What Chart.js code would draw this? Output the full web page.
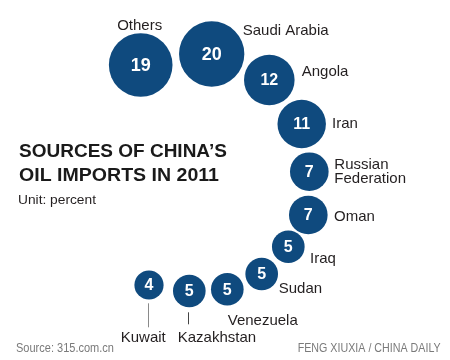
<!DOCTYPE html>
<html>
<head>
<meta charset="utf-8">
<script src="https://cdn.jsdelivr.net/npm/chart.js@4/dist/chart.umd.min.js"></script>
<style>
html,body{margin:0;padding:0;background:#fff;}
#c{display:block;}
</style>
</head>
<body>
<canvas id="c" width="450" height="360"></canvas>
<script>
// ---- data ----
const countries = ["Others","Saudi Arabia","Angola","Iran","Russian\nFederation","Oman","Iraq","Sudan","Venezuela","Kazakhstan","Kuwait"];
const shares    = [19, 20, 12, 11, 7, 7, 5, 5, 5, 5, 4];
const titleLines = ["SOURCES OF CHINA\u2019S", "OIL IMPORTS IN 2011"];
const unitText = "Unit: percent";
const sourceText = "Source: 315.com.cn";
const creditText = "FENG XIUXIA / CHINA DAILY";

// ---- layout (scale units: x 0..450, y 0..360) ----
const bubbleX = [140.7, 211.7, 269.3, 301.7, 309.3, 308.3, 288.3, 261.7, 227.3, 189.3, 149];
const bubbleY = [65, 54, 80, 124, 171.7, 215, 246.7, 274, 289.3, 291, 285];
const labelX  = [139.7, 242.7, 301.7, 332, 334.3, 334, 310, 278.7, 227.7, 177.7, 120.7];
const labelY  = [30, 35, 76, 128.3, 169.3, 220.7, 263.3, 293.3, 325, 342.3, 342.3];
const labelAlign = ["center","left","left","left","left","left","left","left","left","left","left"];
const leaders = [ // [index, yTop, yBottom, color]
  [10, 303.3, 327.3, "#8a8a8a"],
  [9, 312.3, 324.3, "#444"]
];

const BLUE = "#0f4a7e";
const radius = v => 7.3 * Math.sqrt(v);

const points = shares.map((v, i) => ({ x: bubbleX[i], y: bubbleY[i], r: radius(v) }));

const labelPlugin = {
  id: 'labels',
  afterDatasetsDraw(chart) {
    const ctx = chart.ctx;
    const xs = chart.scales.x, ys = chart.scales.y;
    const meta = chart.getDatasetMeta(0);
    ctx.save();
    // numbers inside bubbles
    meta.data.forEach((el, i) => {
      const v = shares[i];
      ctx.fillStyle = "#fff";
      ctx.font = "bold " + (v >= 19 ? 18 : 16) + "px 'Liberation Sans', Arial, sans-serif";
      ctx.textAlign = "center";
      ctx.textBaseline = "middle";
      ctx.fillText(String(v), el.x, el.y + 1);
    });
    // country labels
    ctx.fillStyle = "#231f20";
    ctx.font = "15px 'Liberation Sans', Arial, sans-serif";
    ctx.textBaseline = "alphabetic";
    countries.forEach((name, i) => {
      ctx.textAlign = labelAlign[i];
      const lx = xs.getPixelForValue(labelX[i]);
      const ly = ys.getPixelForValue(labelY[i]);
      name.split("\n").forEach((line, k) => ctx.fillText(line, lx, ly + k * 14));
    });
    // leader lines
    leaders.forEach(([i, y0, y1, col]) => {
      const el = meta.data[i];
      ctx.strokeStyle = col;
      ctx.lineWidth = 1;
      ctx.beginPath();
      const x = Math.round(el.x - 1.3) + 0.5;
      ctx.moveTo(x, ys.getPixelForValue(y0));
      ctx.lineTo(x, ys.getPixelForValue(y1));
      ctx.stroke();
    });
    // text fitted to a width
    const drawFit = (t, font, x, y, w, align) => {
      ctx.font = font;
      const mw = ctx.measureText(t).width;
      const sx = w / mw;
      ctx.save();
      ctx.translate(align === "right" ? x - w : x, y);
      ctx.scale(sx, 1);
      ctx.textAlign = "left";
      ctx.fillText(t, 0, 0);
      ctx.restore();
    };
    // title
    ctx.fillStyle = "#1a1a1a";
    const tf = "bold 17.5px 'Liberation Sans', Arial, sans-serif";
    drawFit(titleLines[0], tf, 19, 157, 208, "left");
    drawFit(titleLines[1], tf, 19, 180.5, 200, "left");
    ctx.fillStyle = "#231f20";
    drawFit(unitText, "13.5px 'Liberation Sans', Arial, sans-serif", 18, 203.5, 78, "left");
    // footer (condensed)
    ctx.fillStyle = "#7a7a7a";
    const ff = "12.5px 'Liberation Sans', Arial, sans-serif";
    drawFit(sourceText, ff, 16, 351.5, 98, "left");
    drawFit(creditText, ff, 440.7, 351.5, 143, "right");
    ctx.restore();
  }
};

new Chart(document.getElementById('c'), {
  type: 'bubble',
  data: {
    datasets: [{
      data: points,
      backgroundColor: BLUE,
      borderWidth: 0,
      hoverBorderWidth: 0
    }]
  },
  options: {
    responsive: false,
    animation: false,
    layout: { padding: 0, autoPadding: false },
    plugins: { legend: { display: false }, tooltip: { enabled: false }, title: { display: false } },
    scales: {
      x: { type: 'linear', min: 0, max: 450, display: false },
      y: { type: 'linear', min: 0, max: 360, reverse: true, display: false }
    }
  },
  plugins: [labelPlugin]
});
</script>
</body>
</html>
